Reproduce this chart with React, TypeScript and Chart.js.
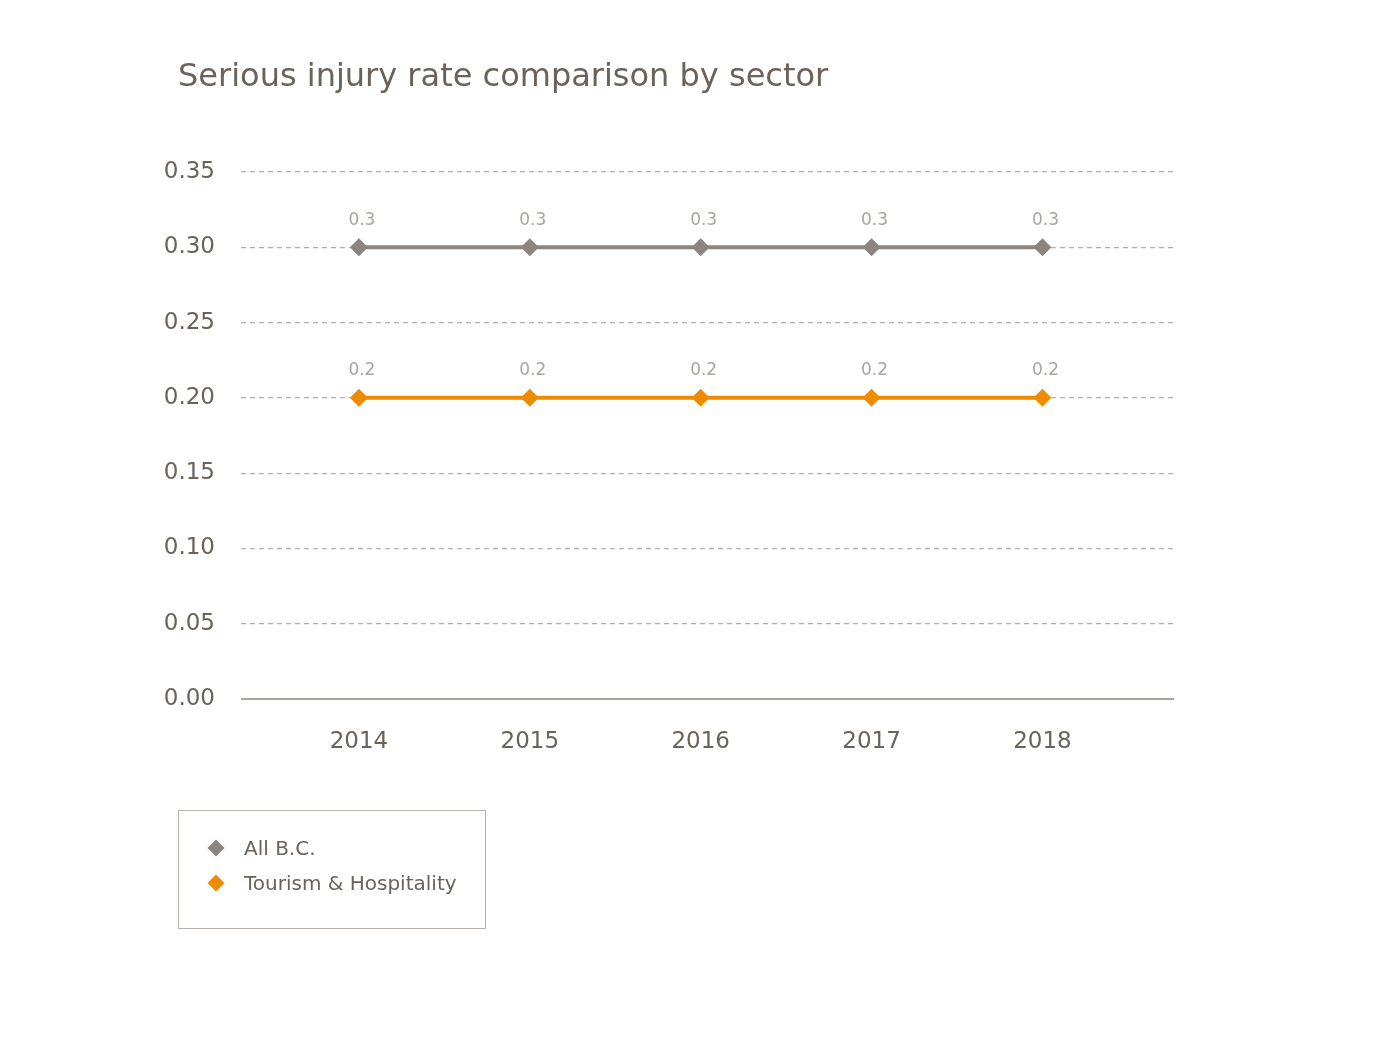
import React, { useEffect, useRef } from "react";
import { Chart, registerables } from "chart.js";

Chart.register(...registerables);

const titleText = "Serious injury rate comparison by sector";
const years = [2014, 2015, 2016, 2017, 2018];
const seriesNames = ["All B.C.", "Tourism & Hospitality"];
const allBC = [0.3, 0.3, 0.3, 0.3, 0.3];
const tourism = [0.2, 0.2, 0.2, 0.2, 0.2];
const seriesColors = ["#8c857f", "#ef8b00"];
const yTicks = [0, 0.05, 0.1, 0.15, 0.2, 0.25, 0.3, 0.35];

const FONT = "'DejaVu Sans', Verdana, sans-serif";
const TEXT = "#6b625a";

const valueLabels = {
  id: "valueLabels",
  afterDatasetsDraw(chart: any) {
    const ctx = chart.ctx;
    ctx.save();
    ctx.font = `17px ${FONT}`;
    ctx.fillStyle = "#a9a49f";
    ctx.textAlign = "center";
    ctx.textBaseline = "middle";
    chart.data.datasets.forEach((ds: any, i: number) => {
      const meta = chart.getDatasetMeta(i);
      meta.data.forEach((pt: any, j: number) => {
        const v = ds.data[j].y;
        ctx.fillText(String(v), pt.x + 3, pt.y - 27);
      });
    });
    ctx.restore();
  },
};

export default function App() {
  const ref = useRef<HTMLCanvasElement | null>(null);
  useEffect(() => {
    if (!ref.current) return;
    const seriesData = [allBC, tourism];
    const chart = new Chart(ref.current, {
      type: "line",
      data: {
        datasets: seriesNames.map((name, i) => ({
          label: name,
          data: years.map((yr, j) => ({ x: yr, y: seriesData[i][j] })),
          borderColor: seriesColors[i],
          backgroundColor: seriesColors[i],
          borderWidth: 4,
          pointStyle: "rectRot",
          pointRadius: 9,
          pointBorderWidth: 0,
          pointBackgroundColor: seriesColors[i],
          tension: 0,
        })),
      },
      options: {
        responsive: false,
        animation: false,
        layout: { padding: { top: 172, left: 0, right: 206, bottom: 279 } },
        plugins: { legend: { display: false }, tooltip: { enabled: false }, title: { display: false } },
        scales: {
          x: {
            type: "linear",
            min: 2013.31,
            max: 2018.77,
            afterBuildTicks: (s: any) => {
              s.ticks = years.map((v) => ({ value: v }));
            },
            afterFit: (s: any) => {
              s.height = 60;
            },
            grid: { display: false, drawTicks: false },
            border: { display: false },
            ticks: {
              color: TEXT,
              font: { family: FONT, size: 23 },
              padding: 29,
              callback: (v: any) => String(v),
            },
          },
          y: {
            min: 0,
            max: 0.35,
            afterBuildTicks: (s: any) => {
              s.ticks = yTicks.map((v) => ({ value: v }));
            },
            afterFit: (s: any) => {
              s.width = 241;
            },
            grid: {
              drawTicks: false,
              color: (c: any) => (c.tick && c.tick.value === 0 ? "#a9a39d" : "#b3aea9"),
              lineWidth: (c: any) => (c.tick && c.tick.value === 0 ? 2 : 1.2),
            },
            border: {
              display: false,
              dash: (c: any) => (c.tick && c.tick.value === 0 ? [] : [5, 4]),
            },
            ticks: {
              color: TEXT,
              font: { family: FONT, size: 23 },
              padding: 26,
              callback: (v: any) => Number(v).toFixed(2),
            },
          },
        },
      },
      plugins: [valueLabels],
    } as any);
    return () => chart.destroy();
  }, []);

  return (
    <div style={{ position: "fixed", left: 0, top: 0, width: 1380, height: 1038, background: "#fff", fontFamily: FONT }}>
      <canvas ref={ref} width={1380} height={1038} style={{ position: "absolute", left: 0, top: 0, width: 1380, height: 1038 }} />
      <div style={{ position: "absolute", left: 178, top: 56, fontSize: 32, color: TEXT, whiteSpace: "nowrap", letterSpacing: 0 }}>
        {titleText}
      </div>
      <div
        style={{
          position: "absolute",
          left: 178,
          top: 810,
          width: 306,
          height: 117,
          border: "1.5px solid #b5b0ab",
        }}
      >
        {seriesNames.map((name, i) => (
          <div key={name} style={{ position: "absolute", left: 0, top: 25 + i * 35, height: 24, width: 300 }}>
            <div
              style={{
                position: "absolute",
                left: 31,
                top: 6,
                width: 12,
                height: 12,
                background: seriesColors[i],
                transform: "rotate(45deg)",
              }}
            />
            <div style={{ position: "absolute", left: 65, top: 0, fontSize: 20, color: TEXT, whiteSpace: "nowrap", lineHeight: "24px" }}>
              {name}
            </div>
          </div>
        ))}
      </div>
    </div>
  );
}
